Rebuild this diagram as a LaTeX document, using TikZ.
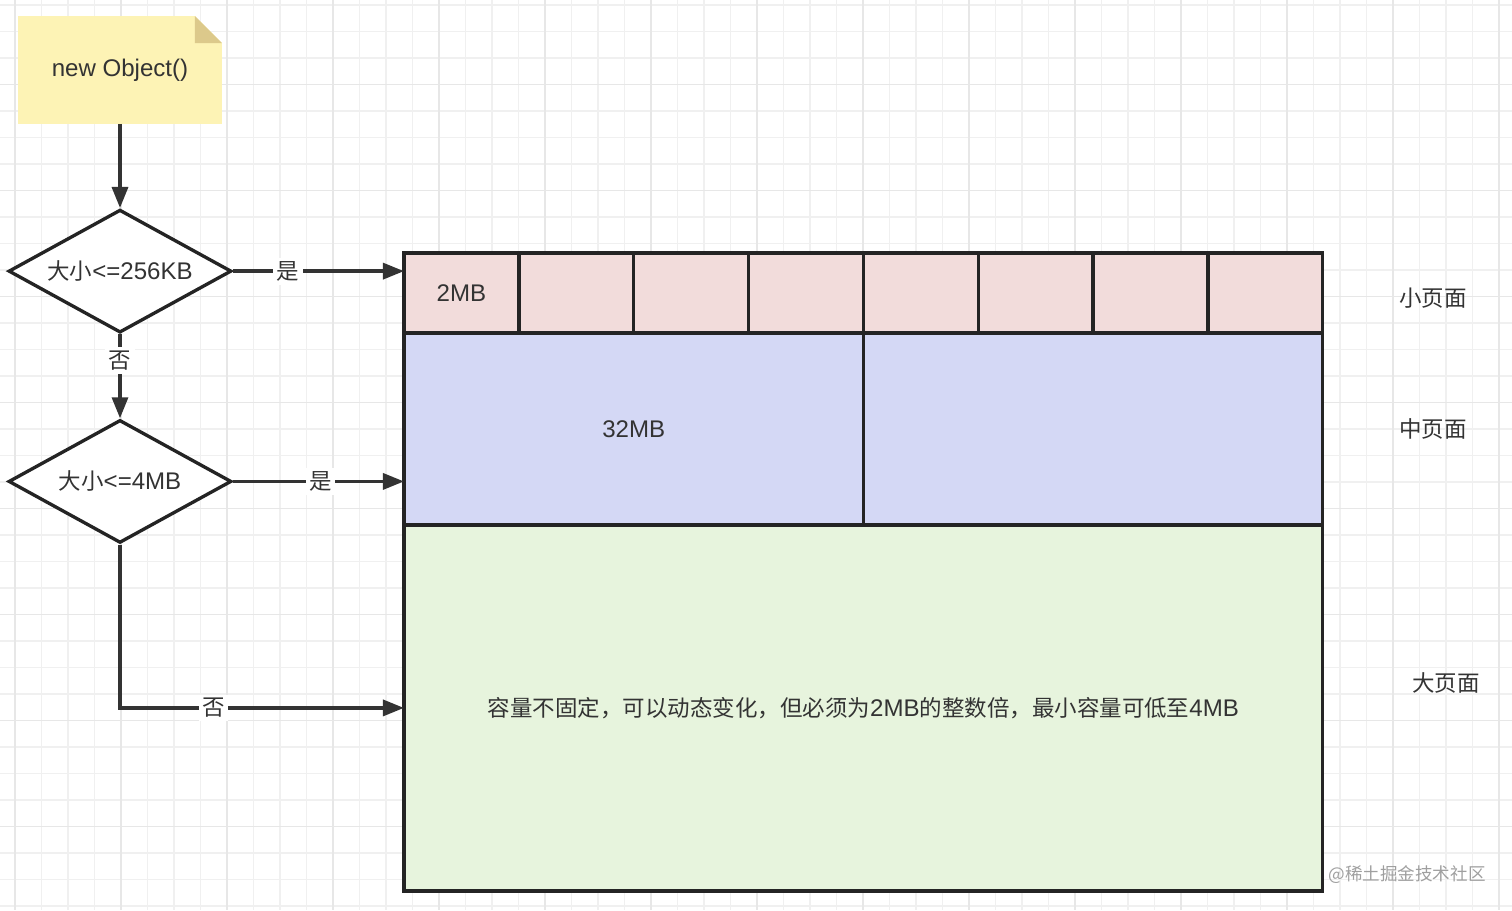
\documentclass[tikz,border=0pt]{standalone}
\usepackage{fontspec}
\setmainfont{Liberation Sans}[Scale=1.07]
\newfontfamily\cjk{Noto Sans CJK SC}
\usepackage{xcolor}
\usetikzlibrary{arrows.meta,positioning,shapes.geometric,backgrounds}

\definecolor{inkgray}{HTML}{333333}
\definecolor{boxline}{HTML}{242424}
\definecolor{notefill}{HTML}{FDF3B5}
\definecolor{foldfill}{HTML}{DCC98B}
\definecolor{pinkfill}{HTML}{F2DCDB}
\definecolor{bluefill}{HTML}{D4D8F5}
\definecolor{greenfill}{HTML}{E7F4DD}
\definecolor{gridminor}{HTML}{F0F0F0}
\definecolor{gridmajor}{HTML}{E7E7E7}

\begin{document}
\begin{tikzpicture}[
    x=0.02cm, y=-0.02cm,
    node distance=1.68cm,
    font=\fontsize{12.8}{15}\selectfont,
    text=inkgray,
    notebox/.style={
        rectangle,
        minimum width=4.08cm,
        minimum height=2.16cm,
        outer sep=0pt,
        align=center
    },
    decision/.style={
        diamond,
        aspect=1.8,
        draw=boxline,
        line width=1.9pt,
        fill=white,
        minimum width=4.46cm,
        minimum height=2.46cm,
        inner sep=0pt
    },
    smallpage/.style={
        rectangle,
        draw=boxline,
        line width=1.9pt,
        fill=pinkfill,
        minimum width=2.2975cm,
        minimum height=1.6cm,
        inner sep=0pt,
        outer sep=0pt
    },
    medpage/.style={
        smallpage,
        fill=bluefill,
        minimum width=9.19cm,
        minimum height=3.84cm
    },
    largepage/.style={
        smallpage,
        fill=greenfill,
        minimum width=18.38cm,
        minimum height=7.32cm
    },
    edgelabel/.style={fill=white, inner sep=2pt, font=\fontsize{12.8}{15}\selectfont\cjk},
    flowarrow/.style={line width=1.9pt, draw=inkgray, -{Triangle[length=0.42cm,width=0.32cm]}}
]
\useasboundingbox (0,0) rectangle (1512,910);

% flow on the left
\node (obj) [notebox] at (120,70) {new Object()};
\node (d1) [decision, below=of obj] {{\cjk 大小}<=256KB};
\node (d2) [decision, below=of d1] {{\cjk 大小}<=4MB};

% pages
\node (s1) [smallpage] at (461.4,293) {2MB};
\foreach \i [count=\j from 2] in {1,...,7}
    \node (s\j) [smallpage, right=0pt of s\i] {};
\node (m1) [medpage, anchor=north west] at (s1.south west) {32MB};
\node (m2) [medpage, right=0pt of m1] {};
\node (big) [largepage, anchor=north west] at (m1.south west)
    {{\cjk 容量不固定，可以动态变化，但必须为}2MB{\cjk 的整数倍，最小容量可低至}4MB};

\node (smalllbl) at (1433,298) {\cjk 小页面};
\node (medlbl) at (1433,429) {\cjk 中页面};
\node (biglbl) at (1446,683) {\cjk 大页面};
\node (mark) [font=\fontsize{10}{12}\selectfont\cjk, text=gray!75] at (1407,875) {@稀土掘金技术社区};

\draw [flowarrow] (obj) -- (d1);
\draw [flowarrow] (d1.east) -- node[edgelabel, pos=0.32] {是} (d1.east -| s1.west);
\draw [flowarrow] (d1) -- node[edgelabel, pos=0.31] {否} (d2);
\draw [flowarrow] (d2.east) -- node[edgelabel, pos=0.51] {是} (d2.east -| m1.west);
\draw [flowarrow] (d2.south) |- node[edgelabel, pos=0.665] {否} (big.west);

% grid and note paper
\begin{scope}[on background layer]
\foreach \k in {0,...,56}
    \draw [gridminor, line width=0.8pt] ({15+26.5*\k},0) -- ({15+26.5*\k},910);
\foreach \k in {0,...,34}
    \draw [gridminor, line width=0.8pt] (0,{5+26.5*\k}) -- (1512,{5+26.5*\k});
\foreach \k in {0,4,...,56}
    \draw [gridmajor, line width=0.8pt] ({15+26.5*\k},0) -- ({15+26.5*\k},910);
\foreach \k in {3,7,...,34}
    \draw [gridmajor, line width=0.8pt] (0,{5+26.5*\k}) -- (1512,{5+26.5*\k});
\fill [notefill] (obj.south west) -- (obj.north west) -- ([xshift=-0.54cm]obj.north east)
    -- ([yshift=-0.54cm]obj.north east) -- (obj.south east) -- cycle;
\fill [foldfill] ([xshift=-0.54cm]obj.north east) -- ([xshift=-0.54cm,yshift=-0.54cm]obj.north east)
    -- ([yshift=-0.54cm]obj.north east) -- cycle;
\end{scope}
\end{tikzpicture}
\end{document}
